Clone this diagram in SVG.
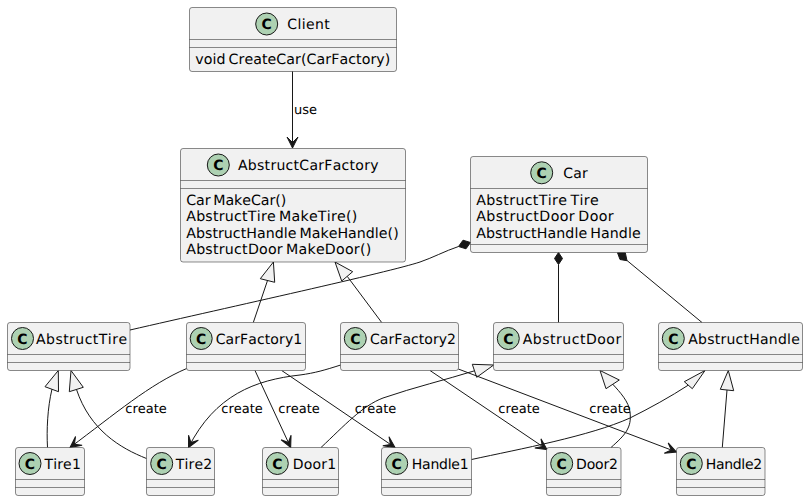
<svg xmlns="http://www.w3.org/2000/svg" width="808" height="501" viewBox="0 0 808 501">
<style>
text{font-family:"DejaVu Sans",sans-serif;fill:#000;font-kerning:none;text-rendering:geometricPrecision}
.box{fill:#F1F1F1;stroke:#181818;stroke-width:.5}
.div{stroke:#181818;stroke-width:.5;fill:none}
.ci{fill:#ADD1B2;stroke:#181818;stroke-width:1}
.c{font-size:14px;font-weight:bold;text-anchor:middle}
.n{font-size:14px}
.m{font-size:14.2px;word-spacing:-1.6px}
.l{font-size:13px}
.e{fill:none;stroke:#181818;stroke-width:1}
.a{marker-end:url(#open)}
.h{fill:#F1F1F1;stroke:#181818;stroke-width:1}
.d{fill:#181818;stroke:#181818;stroke-width:1}
</style>
<defs>
<marker id="open" markerUnits="userSpaceOnUse" markerWidth="14" markerHeight="14" refX="12" refY="7" orient="auto">
<path d="M12,7 L1,1.5 L6.5,7 L1,12.5 Z" fill="#181818" stroke="#181818" stroke-width="1"/>
</marker>
</defs>
<g id="connectors">
<path class="e a" d="M292.5,71 L292.5,148"/>
<path class="e" d="M253.3,322.5 L267.5,280.5"/>
<polygon class="h" points="273.4,262 260.3,278.7 274.7,282.3"/>
<path class="e" d="M381.7,322.5 L347.2,276.3"/>
<polygon class="h" points="335,262 341.7,281 352.7,271.7"/>
<path class="e" d="M458.5,246.5 C445,251 432,258 420,262 C390,272 230,307 130,330"/>
<polygon class="d" points="470.5,242.5 463,240.2 458.5,246.5 466,248.8"/>
<path class="e" d="M558.5,264.5 L558.5,322.5"/>
<polygon class="d" points="558.5,252.5 554.5,258.5 558.5,264.5 562.5,258.5"/>
<path class="e" d="M627,260.5 L702,322.5"/>
<polygon class="d" points="617.5,252.7 625.3,252.7 627,260.7 620,259.5"/>
<path class="e" d="M47.5,447.5 C46.5,430 47.5,408 52,389"/>
<polygon class="h" points="58.3,370.5 45,386.7 58.5,391.7"/>
<path class="e" d="M146.5,458.5 C120,448 90,430 76.5,389.5"/>
<polygon class="h" points="71,370.5 69.3,391.7 83.3,387.3"/>
<path class="e a" d="M186.7,368.5 C150,384 115,414 70,447.5"/>
<path class="e a" d="M340.7,365 C325,370 315,373 300,375 C255,380 215,395 188.5,447.5"/>
<path class="e a" d="M255,370.5 L290.7,447.5"/>
<path class="e a" d="M281.7,370.5 L395,447.5"/>
<path class="e" d="M321,447.5 C345,425 362,406 383,398 C415,387 445,380 474.5,370.8"/>
<polygon class="h" points="493.7,365 472.3,364.3 476.7,377.3"/>
<path class="e a" d="M430,370.5 L547,449.5"/>
<path class="e" d="M471.5,459.5 C520,449 590,436 630,418 C650,408 670,397 688.5,385"/>
<polygon class="h" points="705,370.5 684.3,381.7 692.3,388.7"/>
<path class="e a" d="M458.3,369 L676.5,452"/>
<path class="e" d="M611,447.5 C625,435 632,428 630,412 C629,402 620,392 612.5,384"/>
<polygon class="h" points="600,370.5 606,388.7 619.3,380"/>
<path class="e" d="M722.3,447.5 L727,390"/>
<polygon class="h" points="728.3,370.5 720.3,389.3 733.7,390.7"/>
<text class="l" x="294" y="114">use</text>
<text class="l" x="125.3" y="413">create</text>
<text class="l" x="221.3" y="413">create</text>
<text class="l" x="278.3" y="413">create</text>
<text class="l" x="354.7" y="413">create</text>
<text class="l" x="498.3" y="413">create</text>
<text class="l" x="589.3" y="413">create</text>
</g>
<g id="Client">
<rect class="box" x="189.5" y="7.5" width="207" height="64" rx="2.5"/>
<path class="div" d="M189.5,39.5H396.5M189.5,47.5H396.5"/>
<circle class="ci" cx="266.7" cy="24" r="11"/><text class="c" x="266.7" y="29">C</text>
<text class="n" x="287.3" y="28.5" textLength="42.5">Client</text>
<text class="m" x="195.3" y="63.5" textLength="195">void CreateCar(CarFactory)</text>
</g>
<g id="AbstructCarFactory">
<rect class="box" x="180.5" y="148.5" width="225" height="113.5" rx="2.5"/>
<path class="div" d="M180.5,180.5H405.5M180.5,188.5H405.5"/>
<circle class="ci" cx="218.3" cy="165" r="11"/><text class="c" x="218.3" y="170">C</text>
<text class="n" x="238" y="169.5" textLength="140.5">AbstructCarFactory</text>
<text class="m" x="186.2" y="205" textLength="100">Car MakeCar()</text>
<text class="m" x="186.2" y="221.2" textLength="171">AbstructTire MakeTire()</text>
<text class="m" x="186.2" y="237.5" textLength="212.5">AbstructHandle MakeHandle()</text>
<text class="m" x="186.2" y="253.7" textLength="185">AbstructDoor MakeDoor()</text>
</g>
<g id="Car">
<rect class="box" x="470.5" y="156.5" width="177" height="96" rx="2.5"/>
<path class="div" d="M470.5,188.5H647.5M470.5,244.5H647.5"/>
<circle class="ci" cx="541.7" cy="172.8" r="11"/><text class="c" x="541.7" y="177.8">C</text>
<text class="n" x="563.3" y="177.5" textLength="24.5">Car</text>
<text class="m" x="476.2" y="205" textLength="122.5">AbstructTire Tire</text>
<text class="m" x="476.2" y="221.2" textLength="137.5">AbstructDoor Door</text>
<text class="m" x="476.2" y="237.5" textLength="164.5">AbstructHandle Handle</text>
</g>
<g id="AbstructTire">
<rect class="box" x="7.5" y="322.5" width="122.5" height="48" rx="2.5"/>
<path class="div" d="M7.5,354.5H130M7.5,362.5H130"/>
<circle class="ci" cx="22.5" cy="338.5" r="11"/><text class="c" x="22.5" y="343.5">C</text>
<text class="n" x="36" y="343.5" textLength="91">AbstructTire</text>
</g>
<g id="CarFactory1">
<rect class="box" x="186.5" y="322.5" width="119" height="48" rx="2.5"/>
<path class="div" d="M186.5,354.5H305.5M186.5,362.5H305.5"/>
<circle class="ci" cx="201.2" cy="338.5" r="11"/><text class="c" x="201.2" y="343.5">C</text>
<text class="n" x="215.7" y="343.5" textLength="86.5">CarFactory1</text>
</g>
<g id="CarFactory2">
<rect class="box" x="340.5" y="322.5" width="118" height="48" rx="2.5"/>
<path class="div" d="M340.5,354.5H458.5M340.5,362.5H458.5"/>
<circle class="ci" cx="355.3" cy="338.5" r="11"/><text class="c" x="355.3" y="343.5">C</text>
<text class="n" x="370" y="343.5" textLength="86">CarFactory2</text>
</g>
<g id="AbstructDoor">
<rect class="box" x="493.5" y="322.5" width="130" height="48" rx="2.5"/>
<path class="div" d="M493.5,354.5H623.5M493.5,362.5H623.5"/>
<circle class="ci" cx="508.3" cy="338.5" r="11"/><text class="c" x="508.3" y="343.5">C</text>
<text class="n" x="522.7" y="343.5" textLength="98.5">AbstructDoor</text>
</g>
<g id="AbstructHandle">
<rect class="box" x="658.5" y="322.5" width="144" height="48" rx="2.5"/>
<path class="div" d="M658.5,354.5H802.5M658.5,362.5H802.5"/>
<circle class="ci" cx="673.3" cy="338.5" r="11"/><text class="c" x="673.3" y="343.5">C</text>
<text class="n" x="688.3" y="343.5" textLength="111.5">AbstructHandle</text>
</g>
<g id="Tire1">
<rect class="box" x="15.5" y="447.5" width="69" height="48" rx="2.5"/>
<path class="div" d="M15.5,479.5H84.5M15.5,487.5H84.5"/>
<circle class="ci" cx="30" cy="463.5" r="11"/><text class="c" x="30" y="468.5">C</text>
<text class="n" x="44.5" y="468.5" textLength="36.3">Tire1</text>
</g>
<g id="Tire2">
<rect class="box" x="146.5" y="447.5" width="68" height="48" rx="2.5"/>
<path class="div" d="M146.5,479.5H214.5M146.5,487.5H214.5"/>
<circle class="ci" cx="161.7" cy="463.5" r="11"/><text class="c" x="161.7" y="468.5">C</text>
<text class="n" x="175.7" y="468.5" textLength="36.5">Tire2</text>
</g>
<g id="Door1">
<rect class="box" x="262.5" y="447.5" width="76" height="48" rx="2.5"/>
<path class="div" d="M262.5,479.5H338.5M262.5,487.5H338.5"/>
<circle class="ci" cx="277.3" cy="463.5" r="11"/><text class="c" x="277.3" y="468.5">C</text>
<text class="n" x="292.7" y="468.5" textLength="43.5">Door1</text>
</g>
<g id="Handle1">
<rect class="box" x="381.5" y="447.5" width="90" height="48" rx="2.5"/>
<path class="div" d="M381.5,479.5H471.5M381.5,487.5H471.5"/>
<circle class="ci" cx="396.7" cy="463.5" r="11"/><text class="c" x="396.7" y="468.5">C</text>
<text class="n" x="411.7" y="468.5" textLength="57">Handle1</text>
</g>
<g id="Door2">
<rect class="box" x="546.5" y="447.5" width="74.5" height="48" rx="2.5"/>
<path class="div" d="M546.5,479.5H621M546.5,487.5H621"/>
<circle class="ci" cx="561.7" cy="463.5" r="11"/><text class="c" x="561.7" y="468.5">C</text>
<text class="n" x="576" y="468.5" textLength="42">Door2</text>
</g>
<g id="Handle2">
<rect class="box" x="676.5" y="447.5" width="88.5" height="48" rx="2.5"/>
<path class="div" d="M676.5,479.5H765M676.5,487.5H765"/>
<circle class="ci" cx="691.3" cy="463.5" r="11"/><text class="c" x="691.3" y="468.5">C</text>
<text class="n" x="705.7" y="468.5" textLength="56.5">Handle2</text>
</g>
</svg>
